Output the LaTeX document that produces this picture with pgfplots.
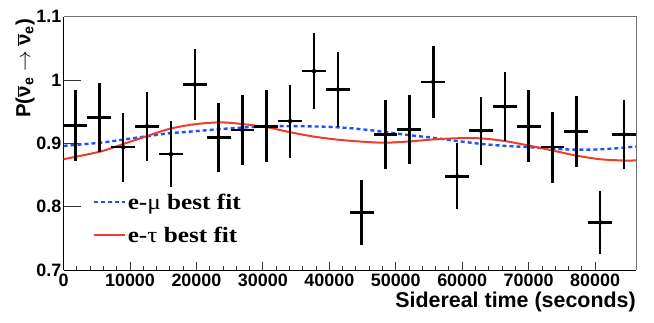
\documentclass[border=0pt]{standalone}
\usepackage{fontspec}
\usepackage{pgfplots}
\pgfplotsset{compat=1.18}
\setmainfont{Liberation Sans}
\newfontfamily\lserif[FakeStretch=1.15]{Liberation Serif}
\definecolor{fitblue}{RGB}{30,80,255}
\definecolor{fitred}{RGB}{240,60,45}
\newcommand{\nubar}{$\overline{\mbox{ν}}$\textsubscript{e}}

\pgfplotstableread{
x      y      ex    ey
1795   0.928  1795  0.0555
5385   0.941  1795  0.054
8976   0.894  1795  0.0545
12566  0.927  1795  0.0545
16156  0.883  1795  0.0525
19746  0.993  1795  0.0565
23336  0.909  1795  0.054
26926  0.921  1795  0.055
30516  0.927  1795  0.057
34107  0.935  1795  0.0575
37697  1.014  1795  0.060
41287  0.985  1795  0.0585
44877  0.791  1795  0.0515
48467  0.914  1795  0.054
52057  0.922  1795  0.0545
55647  0.997  1795  0.0575
59238  0.848  1795  0.052
62828  0.920  1795  0.0535
66418  0.958  1795  0.054
70008  0.927  1795  0.0565
73598  0.894  1795  0.056
77188  0.919  1795  0.0565
80778  0.775  1795  0.050
84369  0.914  1795  0.0545
}\datatable

\begin{document}
\begin{tikzpicture}
\begin{axis}[
  name=ax,
  scale only axis,
  width=572.4bp, height=253.3bp,
  xmin=0, xmax=86164, ymin=0.7, ymax=1.1,
  axis lines=left,
  axis line style={-, black, line width=1bp},
  scaled x ticks=false, scaled y ticks=false,
  xtick={0,10000,20000,30000,40000,50000,60000,70000,80000},
  xticklabels={0,10000,20000,30000,40000,50000,60000,70000,80000},
  minor x tick num=4,
  ytick={0.7,0.8,0.9,1,1.1},
  yticklabels={0.7,0.8,0.9,1,1.1},
  tick align=inside,
  major tick length=8bp, minor tick length=4bp,
  ytick style={/pgfplots/major tick length=17bp},
  tick style={line width=0.8bp, black!80},
  ticklabel style={font=\bfseries\fontsize{18}{20}\selectfont},
  yticklabel style={inner sep=2bp},
  xlabel={Sidereal time (seconds)},
  xlabel style={at={(rel axis cs:1,0)}, anchor=base east, yshift=-37.7bp,
    inner sep=0pt, font=\bfseries\fontsize{21.5}{24}\selectfont},
  ylabel={P(\nubar{} $\rightarrow$ \nubar)},
  ylabel style={at={(axis description cs:-0.0674,0.992)}, anchor=east,
    inner sep=0pt, font=\bfseries\fontsize{20.5}{24}\selectfont},
  legend style={draw=none, fill=none, at={(axis description cs:0.05,0.31)},
    anchor=north west, inner sep=0pt, row sep=12bp,
    cells={anchor=west},
    font=\lserif\bfseries\fontsize{22}{25}\selectfont},
  legend image code/.code={\draw[#1] (0bp,0bp) -- (31bp,0bp);},
]
\addplot[color=fitblue, line width=2.4bp, dash pattern=on 4bp off 3bp, smooth] coordinates {
  (0,0.896) (5500,0.901) (9000,0.906) (12400,0.911) (16000,0.916) (19600,0.919)
  (23000,0.922) (27000,0.925) (31000,0.927) (36000,0.927) (40000,0.926)
  (43100,0.924) (46000,0.921) (48300,0.918) (52000,0.913) (55400,0.909)
  (59000,0.904) (63000,0.899) (66500,0.896) (70000,0.894) (74000,0.891)
  (79000,0.890) (83000,0.892) (86164,0.895)
};
\addlegendentry{e-{\mdseries μ} best fit}
\addplot[color=fitred, line width=2bp, smooth] coordinates {
  (0,0.875) (5500,0.887) (9000,0.899) (12400,0.911) (16000,0.923) (19600,0.930)
  (23000,0.933) (25500,0.932) (30300,0.926) (33900,0.918) (37500,0.911)
  (41100,0.906) (44500,0.903) (48300,0.901) (52000,0.903) (55400,0.906)
  (59000,0.908) (62600,0.908) (66200,0.904) (69800,0.897) (73500,0.889)
  (77000,0.881) (80700,0.875) (84100,0.873) (86164,0.873)
};
\addlegendentry{e-{\mdseries τ} best fit}
\addplot[only marks, mark=none, forget plot,
  error bars/.cd, x dir=both, y dir=both, x explicit, y explicit,
  error mark=none, error bar style={draw=black, line width=2.5bp}]
  table[x=x, y=y, x error=ex, y error=ey] {\datatable};
\end{axis}
\draw[black!55, line width=1bp] (ax.north west) -- (ax.north east) -- (ax.south east);
\pgfresetboundingbox
\path[use as bounding box] ([xshift=-63.57bp, yshift=-52bp]ax.south west)
  rectangle ([xshift=18bp, yshift=16.7bp]ax.north east);
\end{tikzpicture}
\end{document}
